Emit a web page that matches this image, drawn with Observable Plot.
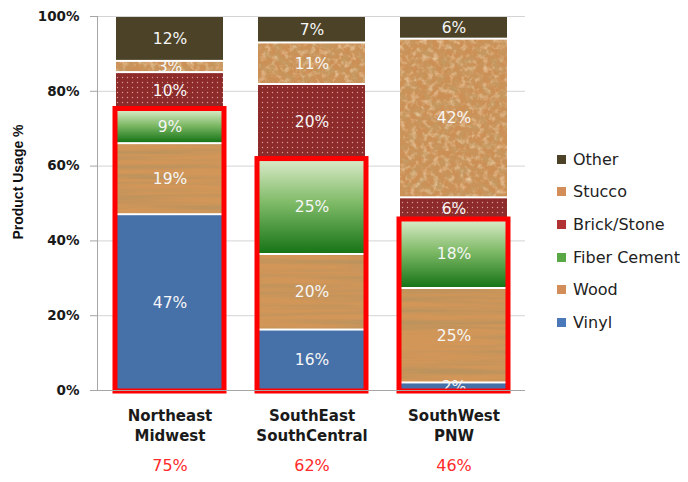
<!DOCTYPE html>
<html>
<head>
<meta charset="utf-8">
<script src="https://cdn.jsdelivr.net/npm/d3@7"></script>
<script src="https://cdn.jsdelivr.net/npm/@observablehq/plot@0.6"></script>
<style>
  html, body { margin: 0; padding: 0; background: #fff; }
  #wrap { position: relative; width: 688px; height: 482px; overflow: hidden; font-family: "DejaVu Sans", sans-serif; }
  #ylabel { position: absolute; left: 18px; top: 182px; transform: translate(-50%, -50%) rotate(-90deg); white-space: nowrap;
            font: bold 14px "Liberation Sans", Arial, sans-serif; color: #111; }
  #legend { position: absolute; left: 557px; top: 143px; }
  .item { display: flex; align-items: center; height: 32.6px; font-size: 16px; color: #222; white-space: nowrap; }
  .sw { width: 9px; height: 9px; margin-right: 7px; flex: none; }
</style>
</head>
<body>
<svg width="0" height="0" style="position:absolute">
  <defs>
    <filter id="woodF" filterUnits="userSpaceOnUse" x="0" y="0" width="688" height="482">
      <feTurbulence type="fractalNoise" baseFrequency="0.006 0.2" numOctaves="3" seed="3"/>
      <feColorMatrix type="matrix" values="0 0 0 0 0.50  0 0 0 0 0.29  0 0 0 0 0.11  2.4 0 0 0 -0.9"/>
    </filter>
    <filter id="stuccoF" filterUnits="userSpaceOnUse" x="0" y="0" width="688" height="482">
      <feTurbulence type="fractalNoise" baseFrequency="0.12" numOctaves="4" seed="7"/>
      <feColorMatrix type="matrix" values="0 0 0 0 0.55  0 0 0 0 0.32  0 0 0 0 0.12  2.4 0 0 0 -0.9"/>
    </filter>
    <filter id="stuccoL" filterUnits="userSpaceOnUse" x="0" y="0" width="688" height="482">
      <feTurbulence type="fractalNoise" baseFrequency="0.18" numOctaves="3" seed="21"/>
      <feColorMatrix type="matrix" values="0 0 0 0 0.90  0 0 0 0 0.70  0 0 0 0 0.47  1.6 0 0 0 -0.75"/>
    </filter>
    <pattern id="wood" patternUnits="userSpaceOnUse" width="688" height="482">
      <rect width="688" height="482" fill="#d29658"/>
      <rect width="688" height="482" filter="url(#woodF)"/>
    </pattern>
    <pattern id="stucco" patternUnits="userSpaceOnUse" width="688" height="482">
      <rect width="688" height="482" fill="#cc8f55"/>
      <rect width="688" height="482" filter="url(#stuccoF)"/>
      <rect width="688" height="482" filter="url(#stuccoL)"/>
    </pattern>
    <pattern id="brick" patternUnits="userSpaceOnUse" width="5" height="5">
      <rect width="5" height="5" fill="#8d2b2b"/>
      <circle cx="2.5" cy="2.5" r="0.7" fill="#d99a9a"/>
    </pattern>
    <linearGradient id="fiber" x1="0" y1="0" x2="0" y2="1">
      <stop offset="0" stop-color="#d8e9c6"/>
      <stop offset="0.45" stop-color="#80bb68"/>
      <stop offset="1" stop-color="#177417"/>
    </linearGradient>
  </defs>
</svg>
<div id="wrap">
  <div id="chart"></div>
  <div id="ylabel">Product Usage %</div>
  <div id="legend"></div>
</div>
<script>
const categories = ["Northeast Midwest", "SouthEast SouthCentral", "SouthWest PNW"];
const materials = ["Vinyl", "Wood", "Fiber Cement", "Brick/Stone", "Stucco", "Other"];
const vinyl  = [47, 16, 2];
const wood   = [19, 20, 25];
const fiber  = [9, 25, 18];
const brick  = [10, 20, 6];
const stucco = [3, 11, 42];
const other  = [12, 7, 6];
const highlighted = [75, 62, 46];

const fills = ["#4670a8", "url(#wood)", "url(#fiber)", "url(#brick)", "url(#stucco)", "#4b4227"];
const swatches = ["#4a78b8", "#d38d58", "#5aa845", "#b03232", "#d38d58", "#4b4227"];

const series = [vinyl, wood, fiber, brick, stucco, other];
const rows = [];
categories.forEach((c, i) => materials.forEach((m, j) => rows.push({region: c, material: m, value: series[j][i]})));

const boxes = categories.map((c, i) => {
  const total = d3.sum(series, s => s[i]);
  return {region: c, share: (vinyl[i] + wood[i] + fiber[i]) / total, label: highlighted[i] + "%"};
});

const chart = Plot.plot({
  width: 688, height: 482,
  marginLeft: 97, marginRight: 163, marginTop: 16, marginBottom: 92,
  style: {fontFamily: "DejaVu Sans, sans-serif", background: "transparent"},
  x: {domain: categories, paddingInner: 0.25, paddingOuter: 0.13, label: null},
  y: {domain: [0, 1], label: null},
  color: {domain: materials, range: fills},
  marks: [
    Plot.gridY({ticks: 5, stroke: "#d4d4d4", strokeOpacity: 1}),
    Plot.barY(rows, Plot.stackY({x: "region", y: "value", fill: "material", offset: "normalize", insetTop: 1, insetBottom: 1})),
    Plot.text(rows, Plot.stackY({x: "region", y: "value", z: "material", offset: "normalize",
      text: d => d.value + "%", fill: "#f6f6f6", fontSize: 15.5})),
    Plot.barY(boxes, {x: "region", y1: 0, y2: "share", fill: "none", stroke: "#ff0000", strokeWidth: 5, inset: -1}),
    Plot.ruleY([0], {stroke: "#a6a6a6"}),
    Plot.frame({anchor: "left", stroke: "#a6a6a6"}),
    Plot.axisY({ticks: 5, tickFormat: d3.format(".0%"), tickSize: 7, tickPadding: 11, fontSize: 13.5,
      fontWeight: "bold", stroke: "#a6a6a6", fill: "#1a1a1a", label: null}),
    Plot.axisX({tickSize: 0, tickPadding: 16, tickFormat: d => d.replace(" ", "\n"), fontSize: 15,
      fontWeight: "bold", lineHeight: 1.33, fill: "#1a1a1a", label: null}),
    Plot.text(boxes, {x: "region", frameAnchor: "bottom", dy: 80, text: "label", fill: "#ff2a2a", fontSize: 16})
  ]
});
document.getElementById("chart").appendChild(chart);

const legend = document.getElementById("legend");
materials.map((m, j) => ({m, c: swatches[j]})).reverse().forEach(({m, c}) => {
  const it = document.createElement("div");
  it.className = "item";
  const sw = document.createElement("span");
  sw.className = "sw";
  sw.style.background = c;
  it.appendChild(sw);
  it.appendChild(document.createTextNode(m));
  legend.appendChild(it);
});
</script>
</body>
</html>
